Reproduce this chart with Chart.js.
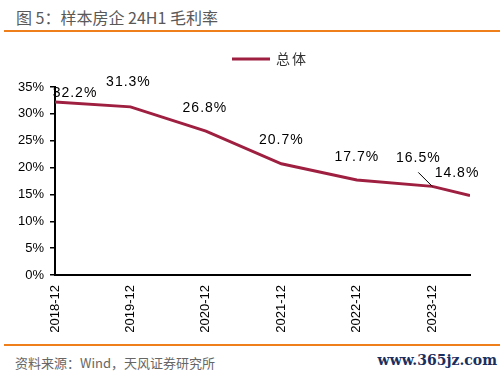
<!DOCTYPE html>
<html>
<head>
<meta charset="utf-8">
<script src="https://cdn.jsdelivr.net/npm/chart.js@4.4.0/dist/chart.umd.min.js"></script>
<style>
  html, body { margin: 0; padding: 0; background: #fff; }
  body { width: 504px; height: 377px; position: relative; overflow: hidden; }
  .title {
    position: absolute; left: 16px; top: 5px;
    font: 16px "Noto Sans CJK SC", sans-serif; color: #595959;
  }
  .rule { position: absolute; left: 4px; width: 496px; height: 2px; background: #ef7f1a; }
  .source {
    position: absolute; left: 15px; top: 353px;
    font: 13px "Noto Sans CJK SC", sans-serif; color: #666;
  }
  .site {
    position: absolute; right: 7px; top: 352px;
    font: bold 14px "DejaVu Serif", serif; color: #1b2f5e;
  }
  #chart { position: absolute; left: 0; top: 35px; }
</style>
</head>
<body>
<div class="title">图 5：样本房企 24H1 毛利率</div>
<div class="rule" style="top:30px"></div>
<canvas id="chart" width="504" height="305"></canvas>
<div class="rule" style="top:344px"></div>
<div class="source">资料来源：Wind，天风证券研究所</div>
<div class="site">www.365jz.com</div>
<script>
// Data
const periods = ["2018-12", "2019-12", "2020-12", "2021-12", "2022-12", "2023-12", "2024-06"];
const grossMargin = [32.2, 31.3, 26.8, 20.7, 17.7, 16.5, 14.8];
const xTickLabels = ["2018-12", "2019-12", "2020-12", "2021-12", "2022-12", "2023-12"];
const yTicks = [0, 5, 10, 15, 20, 25, 30, 35];
const seriesName = "总体";

// years since the first period
const toX = (p) => {
  const [y, m] = p.split("-").map(Number);
  return (y - 2018) + (m - 12) / 12;
};
const points = periods.map((p, i) => ({ x: toX(p), y: grossMargin[i] }));

const lineColor = "#9e1f40";
// label offsets from each point (dx, dy)
const labelOffsets = [[20, -9], [-2, -25], [-1, -23], [0, -24], [0, -23], [-14, -28], [-13, -22]];

const labelsPlugin = {
  id: "labels",
  afterDatasetsDraw(chart) {
    const ctx = chart.ctx;
    const meta = chart.getDatasetMeta(0);
    ctx.save();
    ctx.font = "14px 'Liberation Sans', Arial, sans-serif";
    ctx.letterSpacing = "1px";
    ctx.fillStyle = "#000";
    ctx.textAlign = "center";
    ctx.textBaseline = "middle";
    meta.data.forEach((pt, i) => {
      const [dx, dy] = labelOffsets[i];
      ctx.fillText(grossMargin[i].toFixed(1) + "%", pt.x + dx, pt.y + dy);
    });
    // leader line for 2023-12
    const p5 = meta.data[5];
    ctx.strokeStyle = "#000";
    ctx.lineWidth = 1;
    ctx.beginPath();
    ctx.moveTo(p5.x - 14, p5.y - 14);
    ctx.lineTo(p5.x, p5.y);
    ctx.stroke();

    // legend
    ctx.letterSpacing = "2px";
    ctx.strokeStyle = lineColor;
    ctx.lineWidth = 3;
    ctx.beginPath();
    ctx.moveTo(232, 24);
    ctx.lineTo(270, 24);
    ctx.stroke();
    ctx.textAlign = "left";
    ctx.font = "14px 'Noto Sans CJK SC', sans-serif";
    ctx.fillStyle = "#333";
    ctx.fillText(seriesName, 276, 24);
    ctx.restore();
  },
};

new Chart(document.getElementById("chart"), {
  type: "line",
  data: {
    datasets: [
      {
        label: seriesName,
        data: points,
        borderColor: lineColor,
        borderWidth: 3,
        pointRadius: 0,
        tension: 0,
      },
    ],
  },
  options: {
    responsive: false,
    animation: false,
    layout: { padding: { top: 52, right: 34, left: 0, bottom: 0 } },
    plugins: {
      legend: { display: false },
      tooltip: { enabled: false },
    },
    scales: {
      x: {
        type: "linear",
        min: 0,
        max: toX(periods[periods.length - 1]),
        afterBuildTicks: (s) => {
          s.ticks = xTickLabels.map((l) => ({ value: toX(l) }));
        },
        afterFit: (s) => { s.height = 65; },
        grid: { display: false },
        border: { color: "#000", width: 2 },
        ticks: {
          autoSkip: false,
          minRotation: 90,
          maxRotation: 90,
          padding: 2,
          color: "#000",
          font: { family: "'Liberation Sans', Arial", size: 13 },
          callback: (v) => xTickLabels.find((l) => toX(l) === v) || "",
        },
      },
      y: {
        min: 0,
        max: 35,
        afterBuildTicks: (s) => {
          s.ticks = yTicks.map((v) => ({ value: v }));
        },
        afterFit: (s) => { s.width = 55; },
        grid: { drawOnChartArea: false, tickLength: 5, color: "#000", lineWidth: 1.5 },
        border: { color: "#000", width: 2 },
        ticks: {
          padding: 6,
          color: "#000",
          font: { family: "'Liberation Sans', Arial", size: 13 },
          callback: (v) => v + "%",
        },
      },
    },
  },
  plugins: [labelsPlugin],
});
</script>
</body>
</html>
